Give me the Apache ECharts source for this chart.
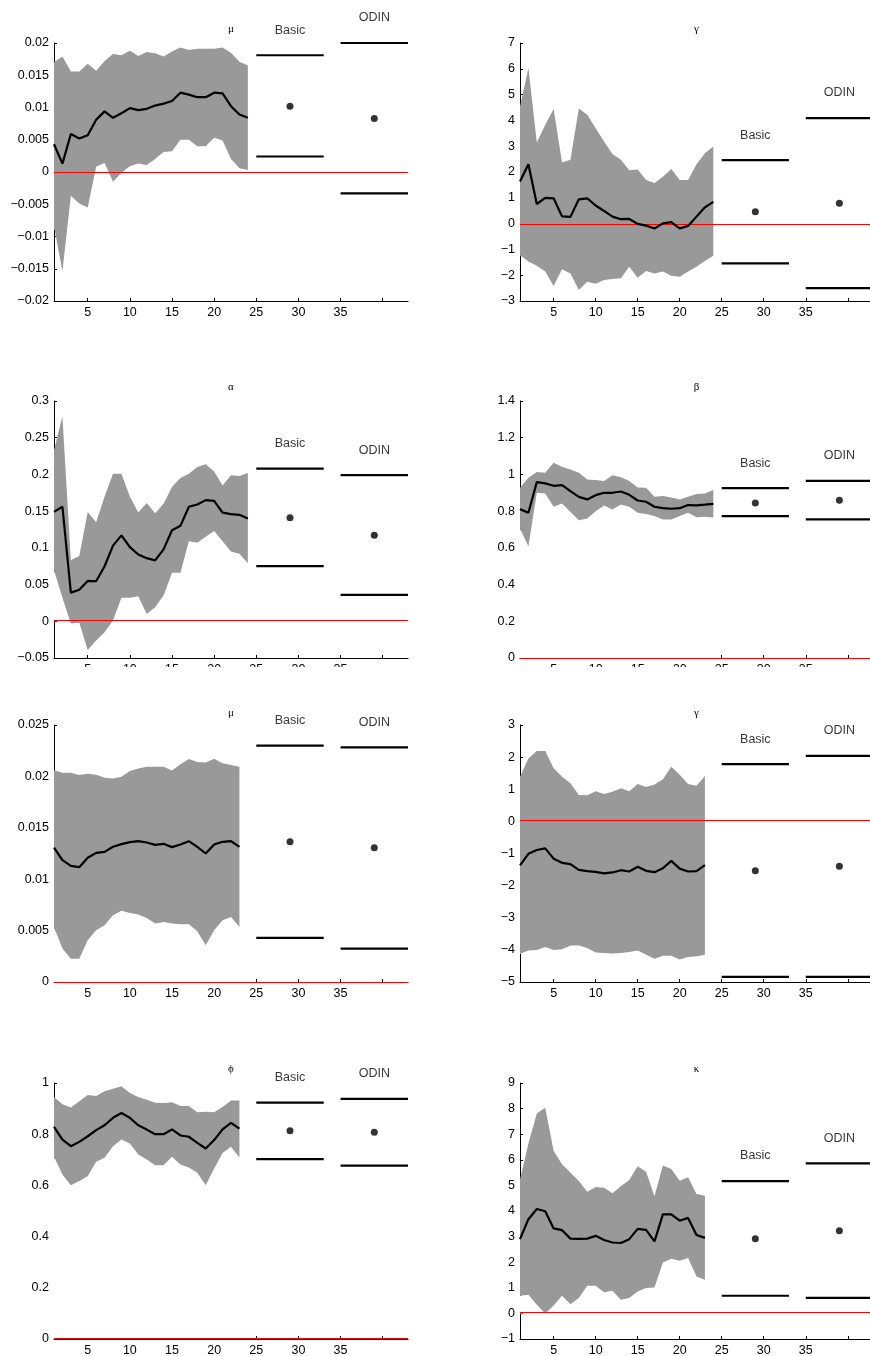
<!DOCTYPE html>
<html><head><meta charset="utf-8">
<script src="https://cdn.jsdelivr.net/npm/echarts@6/dist/echarts.min.js"></script>
<style>html,body{margin:0;padding:0;background:#fff}#chart{width:870px;height:1356px}</style>
</head><body><div id="chart"></div>
<script>
// ---------- data ----------
const periods24 = [1,2,3,4,5,6,7,8,9,10,11,12,13,14,15,16,17,18,19,20,21,22,23,24];
const periods23 = [1,2,3,4,5,6,7,8,9,10,11,12,13,14,15,16,17,18,19,20,21,22,23];
const basicX = [25, 33], basicCenter = 29;
const odinX = [35, 43], odinCenter = 39;
const xRange = [1, 43];
const xTicks = [5,10,15,20,25,30,35,40];
const xTickLabels = [5,10,15,20,25,30,35];
const zeroRef = 0;

const mu1Mean  = [0.0043,0.0013,0.0059,0.0052,0.0057,0.0081,0.0094,0.0084,0.0091,0.0099,0.0096,0.0098,0.0103,0.0106,0.0110,0.0123,0.0120,0.0116,0.0116,0.0123,0.0122,0.0102,0.0089,0.0084];
const mu1Upper = [0.0170,0.0179,0.0156,0.0156,0.0168,0.0157,0.0172,0.0183,0.0181,0.0188,0.0180,0.0186,0.0184,0.0179,0.0187,0.0193,0.0189,0.0191,0.0191,0.0191,0.0193,0.0185,0.0171,0.0165];
const mu1Lower = [-0.0084,-0.0154,-0.0037,-0.0049,-0.0055,0.0008,0.0014,-0.0015,-0.0001,0.0009,0.0013,0.0011,0.0020,0.0031,0.0032,0.0050,0.0050,0.0040,0.0040,0.0053,0.0049,0.0020,0.0006,0.0003];
const mu1Basic = [0.0024, 0.0102, 0.0181];
const mu1Odin  = [-0.0033, 0.0083, 0.0200];
const mu1YTicks = [-0.02,-0.015,-0.01,-0.005,0,0.005,0.01,0.015,0.02];

const gamma1Mean  = [1.63,2.30,0.76,1.00,0.98,0.28,0.26,0.94,0.98,0.70,0.49,0.27,0.17,0.18,-0.01,-0.08,-0.19,0.01,0.06,-0.19,-0.09,0.27,0.63,0.84];
const gamma1Upper = [4.54,6.03,3.14,3.83,4.44,2.37,2.47,4.46,4.22,3.70,3.18,2.70,2.47,2.07,2.10,1.69,1.57,1.82,2.12,1.69,1.69,2.30,2.73,2.99];
const gamma1Lower = [-1.22,-1.47,-1.63,-1.86,-2.42,-1.77,-1.93,-2.57,-2.25,-2.33,-2.19,-2.15,-2.12,-1.67,-2.10,-1.84,-1.93,-1.86,-2.02,-2.06,-1.86,-1.67,-1.45,-1.25];
const gamma1Basic = [-1.54, 0.46, 2.46];
const gamma1Odin  = [-2.50, 0.79, 4.09];
const gamma1YTicks = [-3,-2,-1,0,1,2,3,4,5,6,7];

const alphaMean  = [0.149,0.156,0.039,0.043,0.055,0.0545,0.075,0.103,0.117,0.101,0.091,0.086,0.083,0.098,0.124,0.130,0.156,0.159,0.165,0.164,0.148,0.146,0.145,0.140];
const alphaUpper = [0.233,0.279,0.083,0.089,0.149,0.135,0.170,0.201,0.201,0.170,0.148,0.161,0.147,0.160,0.183,0.195,0.201,0.210,0.214,0.204,0.185,0.199,0.198,0.202];
const alphaLower = [0.070,0.032,-0.003,-0.002,-0.039,-0.026,-0.015,0.001,0.032,0.032,0.034,0.010,0.019,0.035,0.066,0.066,0.109,0.107,0.115,0.123,0.109,0.095,0.092,0.079];
const alphaBasic = [0.075, 0.141, 0.208];
const alphaOdin  = [0.036, 0.117, 0.199];
const alphaYTicks = [-0.05,0,0.05,0.1,0.15,0.2,0.25,0.3];

const betaMean  = [0.811,0.791,0.958,0.951,0.938,0.942,0.909,0.878,0.864,0.887,0.900,0.900,0.907,0.889,0.858,0.851,0.824,0.816,0.813,0.816,0.833,0.831,0.835,0.840];
const betaUpper = [0.927,0.982,1.013,1.009,1.064,1.042,1.027,1.009,0.973,0.969,0.964,0.995,0.984,0.964,0.929,0.927,0.878,0.882,0.875,0.864,0.878,0.893,0.896,0.915];
const betaLower = [0.705,0.609,0.900,0.896,0.824,0.842,0.796,0.751,0.760,0.800,0.831,0.809,0.836,0.824,0.791,0.784,0.773,0.755,0.755,0.773,0.791,0.767,0.769,0.765];
const betaBasic = [0.773, 0.845, 0.925];
const betaOdin  = [0.755, 0.860, 0.965];
const betaYTicks = [0,0.2,0.4,0.6,0.8,1,1.2,1.4];

const mu2Mean  = [0.01308,0.01185,0.0113,0.01117,0.01208,0.01256,0.01266,0.01315,0.01341,0.0136,0.0137,0.01357,0.01334,0.01344,0.01312,0.01338,0.0137,0.01315,0.0125,0.01338,0.01364,0.0137,0.01315];
const mu2Upper = [0.0206,0.02036,0.02036,0.02013,0.02026,0.02016,0.01987,0.0198,0.01997,0.02052,0.02078,0.02094,0.02094,0.02094,0.02058,0.02117,0.02169,0.0214,0.02136,0.02172,0.02127,0.0211,0.02094];
const mu2Lower = [0.00536,0.00325,0.00227,0.00227,0.00406,0.00503,0.00552,0.00649,0.00692,0.00672,0.00656,0.00623,0.00568,0.00584,0.00568,0.00562,0.00562,0.00494,0.00357,0.00503,0.006,0.00633,0.00536];
const mu2Basic = [0.00429, 0.01364, 0.0230];
const mu2Odin  = [0.00325, 0.01305, 0.02282];
const mu2YTicks = [0,0.005,0.01,0.015,0.02,0.025];

const gamma2Mean  = [-1.37,-1.01,-0.89,-0.84,-1.16,-1.29,-1.33,-1.51,-1.55,-1.57,-1.62,-1.59,-1.52,-1.56,-1.41,-1.54,-1.58,-1.46,-1.23,-1.47,-1.56,-1.55,-1.36];
const gamma2Upper = [1.39,1.96,2.19,2.19,1.65,1.39,1.19,0.82,0.81,0.94,0.85,0.92,1.03,0.94,1.16,1.07,1.15,1.31,1.70,1.45,1.16,1.11,1.41];
const gamma2Lower = [-4.12,-4.02,-4.00,-3.91,-4.00,-3.98,-3.86,-3.86,-3.94,-4.08,-4.10,-4.11,-4.10,-4.07,-4.02,-4.15,-4.28,-4.18,-4.18,-4.30,-4.22,-4.20,-4.15];
const gamma2Basic = [-4.84, -1.54, 1.78];
const gamma2Odin  = [-4.84, -1.40, 2.04];
const gamma2YTicks = [-5,-4,-3,-2,-1,0,1,2,3];

const phiMean  = [0.829,0.779,0.753,0.770,0.792,0.816,0.835,0.864,0.883,0.864,0.835,0.818,0.800,0.800,0.819,0.795,0.790,0.766,0.744,0.777,0.819,0.844,0.822];
const phiUpper = [0.945,0.917,0.904,0.929,0.953,0.949,0.968,0.978,0.987,0.961,0.945,0.935,0.923,0.922,0.925,0.910,0.910,0.886,0.888,0.886,0.906,0.932,0.932];
const phiLower = [0.712,0.643,0.601,0.617,0.636,0.692,0.708,0.753,0.779,0.764,0.721,0.701,0.679,0.679,0.712,0.682,0.670,0.649,0.601,0.666,0.727,0.751,0.709];
const phiBasic = [0.703, 0.813, 0.923];
const phiOdin  = [0.677, 0.808, 0.938];
const phiYTicks = [0,0.2,0.4,0.6,0.8,1];

const kappaMean  = [2.90,3.68,4.08,3.99,3.32,3.25,2.92,2.91,2.92,3.03,2.87,2.77,2.75,2.90,3.30,3.26,2.81,3.87,3.87,3.62,3.73,3.06,2.95];
const kappaUpper = [5.23,6.64,7.81,8.03,6.35,5.83,5.49,5.17,4.75,4.94,4.91,4.69,4.97,5.21,5.75,5.53,4.58,5.78,5.64,5.18,5.32,4.66,4.60];
const kappaLower = [0.69,0.73,0.34,0.00,0.31,0.69,0.36,0.60,1.08,1.08,0.83,0.88,0.53,0.60,0.86,0.99,1.01,1.99,2.13,2.06,2.16,1.44,1.31];
const kappaBasic = [0.69, 2.92, 5.17];
const kappaOdin  = [0.61, 3.23, 5.86];
const kappaYTicks = [-1,0,1,2,3,4,5,6,7,8,9];

const panelTitles = ['\u03bc','\u03b3','\u03b1','\u03b2','\u03bc','\u03b3','\u03d5','\u03ba'];

const panels = [
  {x: periods24, mean: mu1Mean, lower: mu1Lower, upper: mu1Upper, basic: mu1Basic, odin: mu1Odin, yTicks: mu1YTicks},
  {x: periods24, mean: gamma1Mean, lower: gamma1Lower, upper: gamma1Upper, basic: gamma1Basic, odin: gamma1Odin, yTicks: gamma1YTicks},
  {x: periods24, mean: alphaMean, lower: alphaLower, upper: alphaUpper, basic: alphaBasic, odin: alphaOdin, yTicks: alphaYTicks},
  {x: periods24, mean: betaMean, lower: betaLower, upper: betaUpper, basic: betaBasic, odin: betaOdin, yTicks: betaYTicks},
  {x: periods23, mean: mu2Mean, lower: mu2Lower, upper: mu2Upper, basic: mu2Basic, odin: mu2Odin, yTicks: mu2YTicks},
  {x: periods23, mean: gamma2Mean, lower: gamma2Lower, upper: gamma2Upper, basic: gamma2Basic, odin: gamma2Odin, yTicks: gamma2YTicks},
  {x: periods23, mean: phiMean, lower: phiLower, upper: phiUpper, basic: phiBasic, odin: phiOdin, yTicks: phiYTicks},
  {x: periods23, mean: kappaMean, lower: kappaLower, upper: kappaUpper, basic: kappaBasic, odin: kappaOdin, yTicks: kappaYTicks}
];

// ---------- layout ----------
const colLeft = [54, 520];
const colWidth = [354, 353];
const rowTop = [43, 401, 725, 1083];
const rowHeight = [258, 257, 257, 256];
const titleY = [29, 387, 713, 1069];
const FONT = 'Liberation Sans';
const FS = 12.5;

const grids = [], xAxes = [], yAxes = [], series = [], graphics = [];
const fmtMinus = v => String(v).replace('-', '\u2212');

panels.forEach((p, i) => {
  const col = i % 2, row = Math.floor(i / 2);
  grids.push({left: colLeft[col], top: rowTop[row], width: colWidth[col], height: rowHeight[row],
    outerBoundsMode: 'none', containLabel: false});
  xAxes.push({
    type: 'value', gridIndex: i, min: xRange[0], max: xRange[1],
    axisLine: {show: true, onZero: false, lineStyle: {color: '#000', width: 1}},
    axisTick: {show: true, inside: true, length: 3, customValues: xTicks, lineStyle: {color: '#000'}},
    axisLabel: {show: true, customValues: xTickLabels, margin: 5, color: '#000', fontFamily: FONT, fontSize: FS},
    splitLine: {show: false}
  });
  yAxes.push({
    type: 'value', gridIndex: i, min: p.yTicks[0], max: p.yTicks[p.yTicks.length - 1],
    axisLine: {show: true, onZero: false, lineStyle: {color: '#000', width: 1}},
    axisTick: {show: true, inside: true, length: 3, customValues: p.yTicks, lineStyle: {color: '#000'}},
    axisLabel: {show: true, customValues: p.yTicks, margin: 5, color: '#000', fontFamily: FONT, fontSize: FS,
      formatter: fmtMinus},
    splitLine: {show: false}
  });
  // confidence band (white base from zero to lower bound, then gray band lower..upper)
  series.push({
    type: 'custom', xAxisIndex: i, yAxisIndex: i, z: 2, silent: true, clip: false,
    data: [[p.x[0], p.mean[0]]],
    encode: {x: 0, y: 1},
    renderItem: (params, api) => {
      const up = p.x.map((xv, k) => api.coord([xv, p.upper[k]]));
      const lo = p.x.map((xv, k) => api.coord([xv, p.lower[k]]));
      const zr = p.x.map(xv => api.coord([xv, zeroRef]));
      return {type: 'group', children: [
        {type: 'polygon', shape: {points: lo.concat(zr.slice().reverse())}, style: {fill: '#ffffff'}},
        {type: 'polygon', shape: {points: up.concat(lo.slice().reverse())}, style: {fill: '#999999'}}
      ]};
    }
  });
  // zero reference line (red, pixel-snapped)
  series.push({
    type: 'custom', xAxisIndex: i, yAxisIndex: i, z: 3, silent: true, clip: false,
    data: [[xRange[0], zeroRef]],
    encode: {x: 0, y: 1},
    renderItem: (params, api) => {
      const a = api.coord([xRange[0], zeroRef]);
      const b = api.coord([xRange[1], zeroRef]);
      const y = Math.round((a[1] - 0.5) / 2) * 2 + 0.5;
      return {type: 'line', shape: {x1: a[0], y1: y, x2: b[0], y2: y},
        style: {stroke: '#ff0000', lineWidth: 1}};
    }
  });
  // mean line
  series.push({
    type: 'line', xAxisIndex: i, yAxisIndex: i, z: 4, symbol: 'none',
    data: p.x.map((xv, k) => [xv, p.mean[k]]),
    lineStyle: {color: '#000', width: 2.2}
  });
  // Basic / ODIN intervals
  [[p.basic, basicX, basicCenter, 'Basic'], [p.odin, odinX, odinCenter, 'ODIN']].forEach(([vals, xr, xc, name]) => {
    [vals[0], vals[2]].forEach(v => {
      series.push({type: 'line', xAxisIndex: i, yAxisIndex: i, z: 4, symbol: 'none', clip: false,
        data: [[xr[0], v], [xr[1], v]], lineStyle: {color: '#000', width: 2.2, cap: 'butt'}});
    });
    series.push({type: 'scatter', xAxisIndex: i, yAxisIndex: i, z: 5, clip: false,
      symbol: 'circle', symbolSize: 7, itemStyle: {color: '#000'}, data: [[xc, vals[1]]]});
    series.push({type: 'scatter', xAxisIndex: i, yAxisIndex: i, z: 5, clip: false, silent: true,
      symbol: 'circle', symbolSize: 0.1, itemStyle: {color: 'rgba(0,0,0,0)'}, data: [[xc, vals[2]]],
      label: {show: true, position: 'top', distance: 18.5, formatter: name, color: '#000',
        fontFamily: FONT, fontSize: FS}});
  });
  graphics.push({type: 'text', z: 100, x: colLeft[col] + colWidth[col] / 2, y: titleY[row],
    style: {text: panelTitles[i], font: '11px "Liberation Serif"', fill: '#000', align: 'center', verticalAlign: 'middle'}});
});

// mask clipping the second-row tick labels (as in the original figure)
graphics.push({type: 'rect', z: 100, shape: {x: 0, y: 667, width: 870, height: 38}, style: {fill: '#fff'}});

const chart = echarts.init(document.getElementById('chart'), null, {renderer: 'canvas'});
chart.setOption({
  animation: false,
  backgroundColor: '#fff',
  textStyle: {fontFamily: FONT},
  grid: grids, xAxis: xAxes, yAxis: yAxes, series: series, graphic: graphics
});
</script>
</body></html>
